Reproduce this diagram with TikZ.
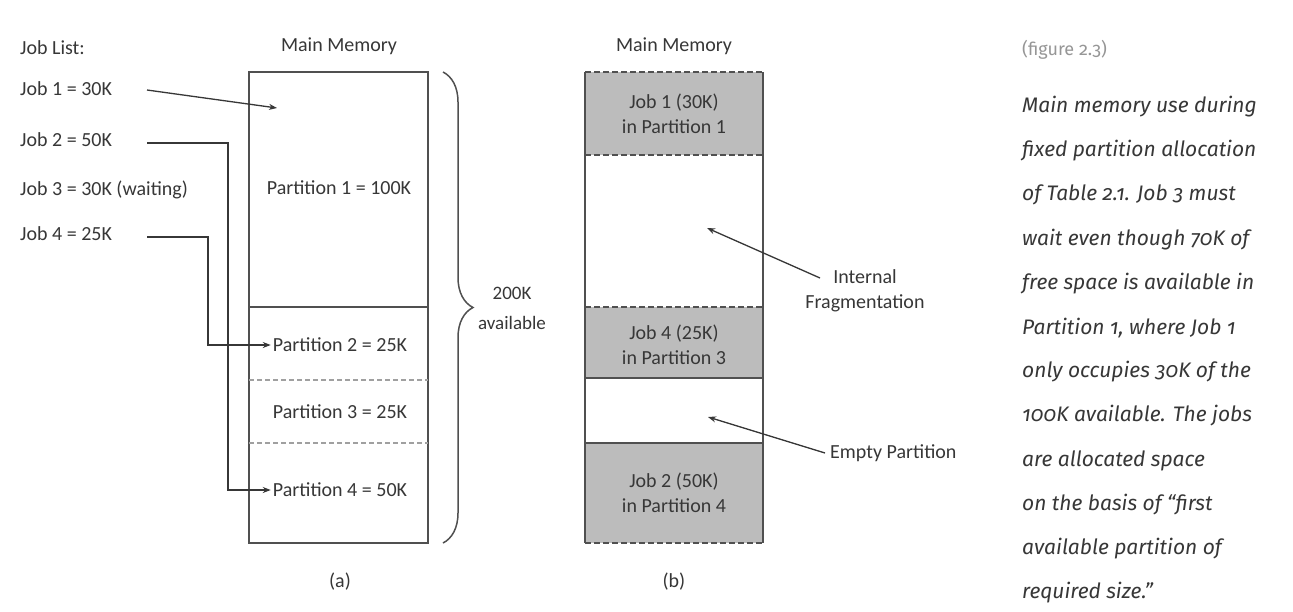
\documentclass[tikz,border=0pt]{standalone}
\usepackage{fontspec}
\setmainfont{Carlito}
\newfontfamily\capfont[Numbers=OldStyle]{Fira Sans}
\usetikzlibrary{arrows.meta,decorations.pathreplacing}
\definecolor{ink}{RGB}{55,55,55}
\definecolor{linec}{RGB}{80,80,80}
\definecolor{dashc}{RGB}{160,160,160}
\definecolor{fillg}{RGB}{188,188,188}
\definecolor{capgray}{RGB}{150,150,150}
\begin{document}
\begin{tikzpicture}[x=1pt,y=-1pt,
  lbl/.style={font=\fontsize{20}{25}\selectfont, text=ink, inner sep=0pt},
  captxt/.style={font=\capfont\itshape\fontsize{21}{24}\selectfont, text=ink, anchor=west, inner sep=0pt},
  figlbl/.style={font=\capfont\fontsize{18}{22}\selectfont, text=capgray, anchor=west, inner sep=0pt},
  box/.style={draw=linec, line width=1.6pt},
  part/.style={draw=dashc, line width=1.4pt, dash pattern=on 5pt off 3pt},
  bdash/.style={draw=linec, line width=1.6pt, dash pattern=on 6pt off 3pt},
  conn/.style={draw=ink, line width=1.3pt, -{Stealth[length=8pt,width=6pt]}},
  ]
\useasboundingbox[fill=white] (0,0) rectangle (1293,611);

% ---------- Job list ----------
\node[lbl, anchor=west] (jl) at (20,48) {Job List:};
\node[lbl, anchor=west] (j1) at (20,89) {Job 1 = 30K};
\node[lbl, anchor=west] (j2) at (20,140) {Job 2 = 50K};
\node[lbl, anchor=west] (j3) at (20,190) {Job 3 = 30K (waiting)};
\node[lbl, anchor=west] (j4) at (20,234) {Job 4 = 25K};

% ---------- Memory (a) ----------
\node[lbl] (mma) at (339,46) {Main Memory};
\draw[box] (249,72) rectangle (428,543);
\draw[box] (249,307) -- (428,307);
\draw[part] (249,380) -- (428,380);
\draw[part] (249,443) -- (428,443);
\node[lbl] (p1) at (339,188) {Partition 1 = 100K};
\node[lbl] (p2) at (340,345) {Partition 2 = 25K};
\node[lbl] (p3) at (340,412) {Partition 3 = 25K};
\node[lbl] (p4) at (340,490) {Partition 4 = 50K};

\coordinate (j1s) at (147,90);
\coordinate (j2s) at (147,143);
\coordinate (j4s) at (147,237);
\coordinate (slot1) at (277,108);
\coordinate (bendA) at (228,0);
\coordinate (bendB) at (208,0);

\draw[conn] (j1s) -- (slot1);
\draw[conn] (j2s) -| (bendA |- p4.west) -- ([xshift=-2pt]p4.west);
\draw[conn] (j4s) -| (bendB |- p2.west) -- ([xshift=-2pt]p2.west);

\draw[linec, line width=1.5pt, decorate, decoration={brace, amplitude=30pt}] (443,72) -- (443,543);
\node[lbl, align=center, font=\fontsize{19}{30}\selectfont] (avail) at (512,308) {200K\\available};
\node[lbl] (la) at (340,582) {(a)};

% ---------- Memory (b) ----------
\node[lbl] (mmb) at (674,46) {Main Memory};
\fill[fillg] (585,72) rectangle (763,155);
\fill[fillg] (585,307) rectangle (763,378);
\fill[fillg] (585,443) rectangle (763,543);
\draw[box] (585,72) -- (585,543);
\draw[box] (763,72) -- (763,543);
\draw[bdash] (585,72) -- (763,72);
\draw[bdash] (585,155) -- (763,155);
\draw[bdash] (585,307) -- (763,307);
\draw[box] (585,378) -- (763,378);
\draw[box] (585,443) -- (763,443);
\draw[bdash] (585,543) -- (763,543);

\node[lbl, align=center] (b1) at (674,114) {Job 1 (30K)\\in Partition 1};
\node[lbl, align=center] (b4) at (674,345) {Job 4 (25K)\\in Partition 3};
\node[lbl, align=center] (b2) at (674,493) {Job 2 (50K)\\in Partition 4};

\coordinate (frag) at (707,228);
\coordinate (empty) at (708,417);
\node[lbl, align=center] (ifrag) at (865,291) {Internal\\Fragmentation};
\node[lbl, anchor=west] (ep) at (830,453) {Empty Partition};
\coordinate (ifs) at (820,278);
\draw[conn] (ifs) -- (frag);
\draw[conn] ([xshift=-5pt]ep.west) -- (empty);
\node[lbl] (lb) at (674,582) {(b)};

% ---------- Caption ----------
\node[figlbl] (fig) at (1022,50) {(figure 2.3)};
\node[captxt] (c1) at (1022,107) {Main memory use during};
\node[captxt] (c2) at (1022,151) {fixed partition allocation};
\node[captxt] (c3) at (1022,195) {of Table 2.1. Job 3 must};
\node[captxt] (c4) at (1022,240) {wait even though 70K of};
\node[captxt] (c5) at (1022,284) {free space is available in};
\node[captxt] (c6) at (1022,328) {Partition 1, where Job 1};
\node[captxt] (c7) at (1022,372) {only occupies 30K of the};
\node[captxt] (c8) at (1022,416) {100K available. The jobs};
\node[captxt] (c9) at (1022,461) {are allocated space};
\node[captxt] (c10) at (1022,505) {on the basis of “first};
\node[captxt] (c11) at (1022,549) {available partition of};
\node[captxt] (c12) at (1022,593) {required size.”};
\end{tikzpicture}
\end{document}
